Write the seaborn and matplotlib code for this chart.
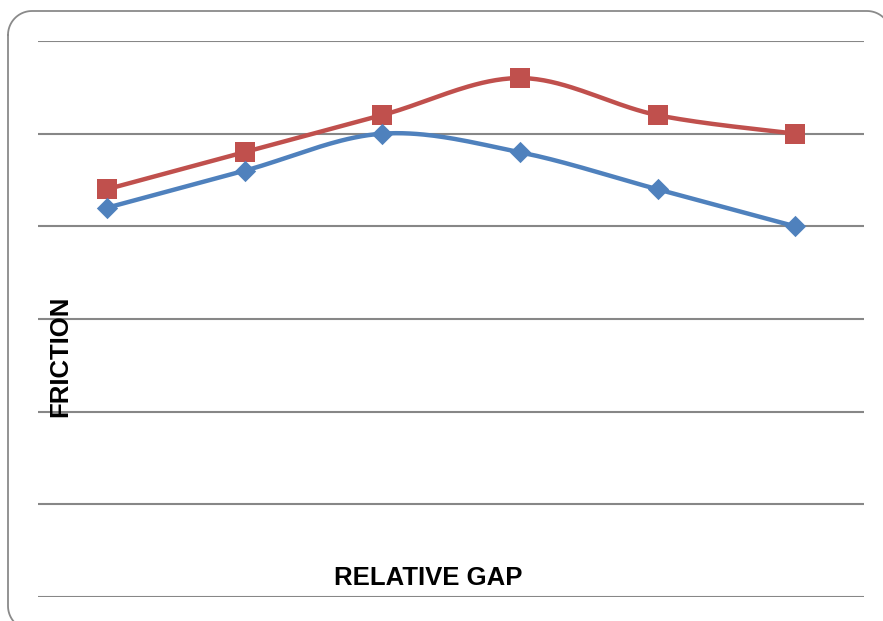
import numpy as np
import matplotlib
matplotlib.use("Agg")
import matplotlib.pyplot as plt
from matplotlib.lines import Line2D
import seaborn as sns

sns.set_theme(style="white")
plt.rcParams['font.family'] = ['Liberation Sans', 'DejaVu Sans']

# Chart data
gap_positions = [0, 1, 2, 3, 4, 5]
friction_upper = [4.4, 4.8, 5.2, 5.6, 5.2, 5.0]
friction_lower = [4.2, 4.6, 5.0, 4.8, 4.4, 4.0]
gridline_values = [0, 1, 2, 3, 4, 5, 6]

RED = "#C0504D"
BLUE = "#4F81BD"
GRID = "#878787"


def smooth_curve(xs, ys, steps=40):
    """Catmull-Rom style Bezier smoothing through the given points."""
    xs = np.asarray(xs, float)
    ys = np.asarray(ys, float)
    pts = np.column_stack([xs, ys])
    n = len(pts)
    out = []
    for i in range(n - 1):
        p0 = pts[i - 1] if i > 0 else pts[i]
        p1 = pts[i]
        p2 = pts[i + 1]
        p3 = pts[i + 2] if i + 2 < n else pts[i + 1]
        c1 = p1 + (p2 - p0) / 6.0
        c2 = p2 - (p3 - p1) / 6.0
        t = np.linspace(0, 1, steps, endpoint=(i == n - 2))[:, None]
        seg = ((1 - t) ** 3) * p1 + 3 * ((1 - t) ** 2) * t * c1 \
            + 3 * (1 - t) * t ** 2 * c2 + t ** 3 * p2
        out.append(seg)
    curve = np.vstack(out)
    return curve[:, 0], curve[:, 1]


def rounded_rect(x0, y0, x1, y1, r, n=20):
    """Outline of a rounded rectangle in pixel units (y downwards)."""
    pts = []
    corners = [
        (x0 + r, y0 + r, 180, 270),
        (x1 - r, y0 + r, 270, 360),
        (x1 - r, y1 - r, 0, 90),
        (x0 + r, y1 - r, 90, 180),
    ]
    for cx, cy, a0, a1 in corners:
        a = np.radians(np.linspace(a0, a1, n))
        pts.extend(zip(cx + r * np.cos(a), cy + r * np.sin(a)))
    pts.append(pts[0])
    return np.array(pts)


fig = plt.figure(figsize=(8.83, 6.21), dpi=100)
W, H = 883, 621
ax = fig.add_axes([38 / W, 1 - 597 / H, (864 - 38) / W, (597 - 41) / H])

# Rounded chart frame, partly beyond the canvas edge
outline = rounded_rect(8, 11, 891, 630, 24)
fig.add_artist(Line2D(outline[:, 0] / W, 1 - outline[:, 1] / H,
                      transform=fig.transFigure, color="#8A8A8A",
                      linewidth=1.3, zorder=0))

for gv in gridline_values:
    ax.axhline(gv, color=GRID, linewidth=1.5, zorder=1)

for series, color, marker, size in [
    (friction_upper, RED, "s", 225),
    (friction_lower, BLUE, "D", 118),
]:
    sx, sy = smooth_curve(gap_positions, series)
    sns.lineplot(x=sx, y=sy, ax=ax, color=color, linewidth=3.2,
                 sort=False, estimator=None, zorder=3)
    sns.scatterplot(x=gap_positions, y=series, ax=ax, color=color,
                    marker=marker, s=size, linewidth=0, zorder=4)

ax.set_xlim(-0.5, 5.5)
ax.set_ylim(0, 6)
ax.set_xticks([])
ax.set_yticks([])
for sp in ax.spines.values():
    sp.set_visible(False)
ax.set_xlabel("")
ax.set_ylabel("")

fig.text(428 / W, 1 - 578 / H, "RELATIVE GAP", ha="center", va="center",
         fontsize=18.5, fontweight="bold", color="black")
fig.text(60 / W, 1 - 356 / H, "FRICTION", ha="center", va="center",
         rotation=90, fontsize=18.5, fontweight="bold", color="black")

fig.savefig("out.png", dpi=100)
